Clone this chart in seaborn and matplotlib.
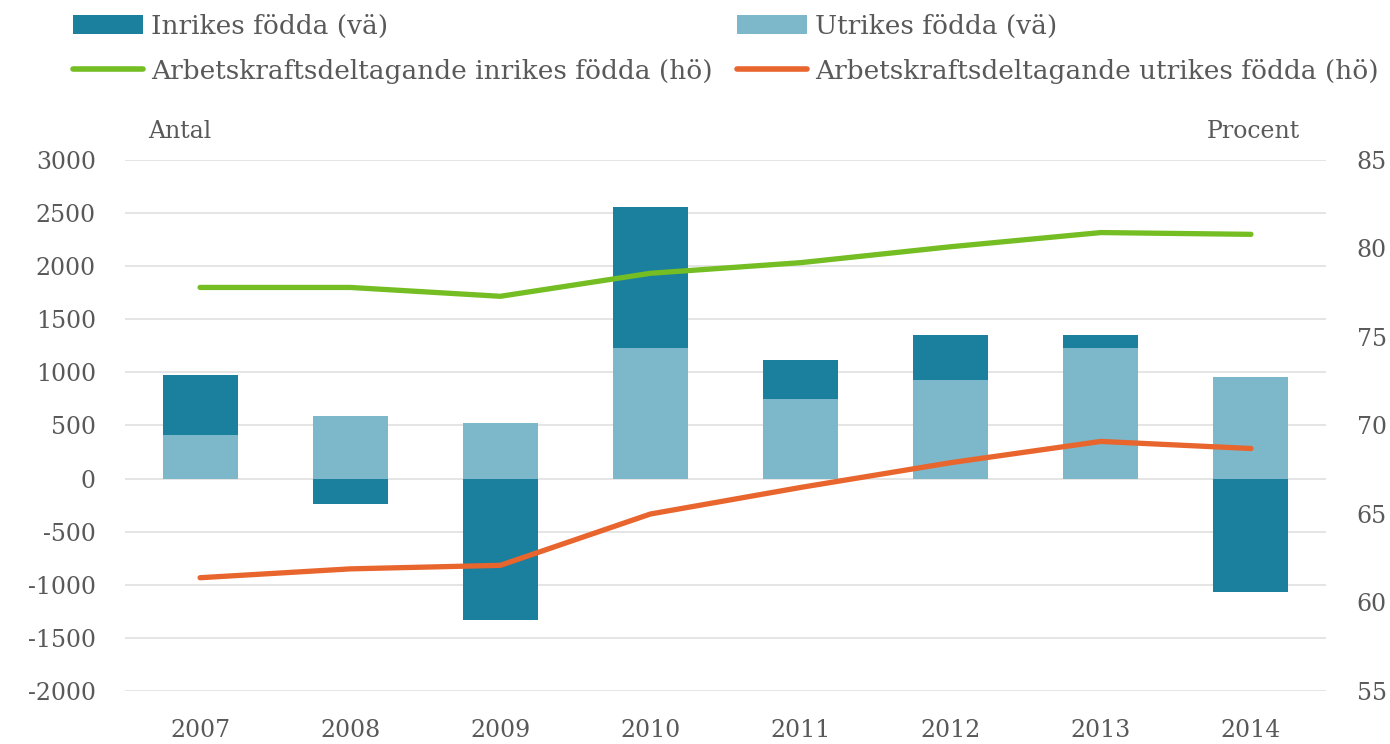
import numpy as np
import pandas as pd
import matplotlib
matplotlib.use("Agg")
import matplotlib.pyplot as plt
from matplotlib.patches import Patch
from matplotlib.lines import Line2D
import seaborn as sns

years = ["2007", "2008", "2009", "2010", "2011", "2012", "2013", "2014"]
inrikes = [570, -240, -1330, 1330, 370, 420, 120, -1070]
utrikes = [410, 590, 520, 1230, 750, 930, 1230, 960]
akd_inrikes = [77.8, 77.8, 77.3, 78.6, 79.2, 80.1, 80.9, 80.8]
akd_utrikes = [61.4, 61.9, 62.1, 65.0, 66.5, 67.9, 69.1, 68.7]
left_ticks = [-2000, -1500, -1000, -500, 0, 500, 1000, 1500, 2000, 2500, 3000]
right_ticks = [55, 60, 65, 70, 75, 80, 85]

labels = ["Inrikes födda (vä)", "Utrikes födda (vä)",
          "Arbetskraftsdeltagande inrikes födda (hö)",
          "Arbetskraftsdeltagande utrikes födda (hö)"]

c_dark = "#1b7f9e"
c_light = "#7db7ca"
c_green = "#74bd22"
c_orange = "#e8652d"
c_text = "#595959"
c_grid = "#e3e3e3"

sns.set_theme(style="white")
plt.rcParams["font.family"] = ["DejaVu Serif"]

df = pd.DataFrame({"year": years, "inrikes": inrikes, "utrikes": utrikes,
                   "akd_in": akd_inrikes, "akd_ut": akd_utrikes})
# dark segment: stacked above utrikes when positive, below zero when negative
df["dark_top"] = np.where(df["inrikes"] > 0, df["inrikes"] + df["utrikes"], df["inrikes"])
df["pos"] = np.arange(len(df))

W, H = 1390, 744
fig = plt.figure(figsize=(W / 100, H / 100), dpi=100)
ax_l, ax_r, ax_t, ax_b = 125, 1326, 160, 691
ax = fig.add_axes([ax_l / W, 1 - ax_b / H, (ax_r - ax_l) / W, (ax_b - ax_t) / H])

sns.barplot(data=df, x="year", y="dark_top", color=c_dark, width=0.5,
            saturation=1, ax=ax, zorder=2, linewidth=0, edgecolor="none")
sns.barplot(data=df, x="year", y="utrikes", color=c_light, width=0.5,
            saturation=1, ax=ax, zorder=3, linewidth=0, edgecolor="none")

ax.set_ylim(-2000, 3000)
ax.set_xlim(-0.5, 7.5)
ax.set_yticks(left_ticks)
ax.set_yticklabels([str(t) for t in left_ticks])
ax.yaxis.grid(True, color=c_grid, linewidth=1.3, zorder=0)
ax.set_axisbelow(True)
ax.set_xlabel("")
ax.set_ylabel("")
for s in ax.spines.values():
    s.set_visible(False)
ax.tick_params(axis="y", length=0, pad=21, labelsize=17, labelcolor=c_text)
ax.tick_params(axis="x", length=0, pad=20, labelsize=17, labelcolor=c_text)

ax2 = ax.twinx()
sns.lineplot(data=df, x="pos", y="akd_in", color=c_green, linewidth=3.8, ax=ax2)
sns.lineplot(data=df, x="pos", y="akd_ut", color=c_orange, linewidth=3.8, ax=ax2)
ax2.set_ylim(55, 85)
ax2.set_xlim(-0.5, 7.5)
ax2.set_yticks(right_ticks)
ax2.set_yticklabels([str(t) for t in right_ticks])
ax2.set_xlabel("")
ax2.set_ylabel("")
ax2.grid(False)
for s in ax2.spines.values():
    s.set_visible(False)
ax2.tick_params(axis="y", length=0, pad=22, labelsize=17, labelcolor=c_text)

fig.text(148 / W, 1 - 131 / H, "Antal", fontsize=17, color=c_text,
         ha="left", va="center")
fig.text(1300 / W, 1 - 131 / H, "Procent", fontsize=17, color=c_text,
         ha="right", va="center")

legend_kw = dict(loc="upper left", frameon=False, fontsize=19,
                 handlelength=2.65, handleheight=0.75, handletextpad=0.3,
                 labelspacing=0.75, borderaxespad=0, borderpad=0)
leg1 = fig.legend([Patch(facecolor=c_dark, edgecolor="none"),
                   Line2D([0], [0], color=c_green, lw=4)],
                  [labels[0], labels[2]],
                  bbox_to_anchor=(73 / W, 1 - 14 / H), **legend_kw)
leg2 = fig.legend([Patch(facecolor=c_light, edgecolor="none"),
                   Line2D([0], [0], color=c_orange, lw=4)],
                  [labels[1], labels[3]],
                  bbox_to_anchor=(737 / W, 1 - 14 / H), **legend_kw)
for lg in (leg1, leg2):
    for t in lg.get_texts():
        t.set_color(c_text)

fig.savefig("out.png", dpi=100)
